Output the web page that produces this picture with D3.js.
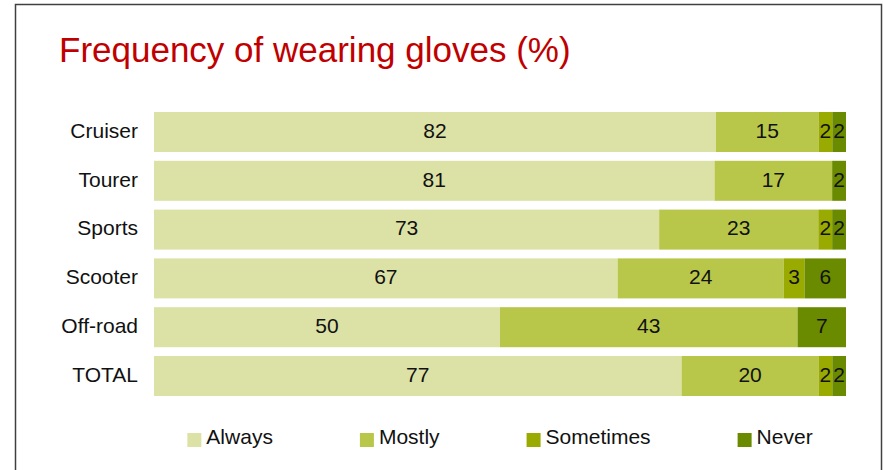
<!DOCTYPE html>
<html><head><meta charset="utf-8">
<script src="https://cdn.jsdelivr.net/npm/d3@7"></script>
<style>
html,body{margin:0;padding:0;background:#fff;}
svg{display:block;font-family:"Liberation Sans",Arial,sans-serif;}
</style></head>
<body><svg id="chart" width="883" height="470"></svg>
<script>
const categories = ["Cruiser","Tourer","Sports","Scooter","Off-road","TOTAL"];
const seriesNames = ["Always","Mostly","Sometimes","Never"];
const always    = [82,81,73,67,50,77];
const mostly    = [15,17,23,24,43,20];
const sometimes = [2,0,2,3,0,2];
const never     = [2,2,2,6,7,2];
const colors = ["#DCE2A6","#B8C74A","#99AA00","#6A8A00"];
const title = "Frequency of wearing gloves (%)";

const W = 883, H = 470;
const plot = {left:154, right:846, top:103.2, bottom:404.8};
const svg = d3.select("#chart");

// frame
svg.append("rect").attr("x",15.5).attr("y",4.5).attr("width",866).attr("height",H+10)
  .attr("fill","#fff").attr("stroke","#404040").attr("stroke-width",1.5);

svg.append("text").attr("x",59).attr("y",62).attr("fill","#C00000")
  .style("font-size","35px").text(title);

const rows = categories.map((c,i)=>({cat:c, Always:always[i], Mostly:mostly[i], Sometimes:sometimes[i], Never:never[i]}));
const stack = d3.stack().keys(seriesNames).offset(d3.stackOffsetExpand);
const layers = stack(rows);

const x = d3.scaleLinear().domain([0,1]).range([plot.left, plot.right]);
const y = d3.scaleBand().domain(categories).range([plot.top, plot.bottom]).padding(0.18);
const color = d3.scaleOrdinal().domain(seriesNames).range(colors);

const g = svg.append("g");
layers.forEach(layer=>{
  const lg = g.append("g").attr("fill", color(layer.key));
  lg.selectAll("rect").data(layer).join("rect")
    .attr("x", d=>x(d[0])).attr("width", d=>Math.max(0, x(d[1])-x(d[0])))
    .attr("y", d=>y(d.data.cat)).attr("height", y.bandwidth());
});
layers.forEach(layer=>{
  g.append("g").selectAll("text").data(layer.filter(d=>d.data[layer.key]>0)).join("text")
    .attr("x", d=>(x(d[0])+x(d[1]))/2)
    .attr("y", d=>y(d.data.cat)+y.bandwidth()/2)
    .attr("dy","0.28em").attr("text-anchor","middle")
    .attr("fill","#111").style("font-size","21px")
    .text(d=>d.data[layer.key]);
});

// category axis
const yAxis = d3.axisLeft(y).tickSize(0).tickPadding(16);
const ag = svg.append("g").attr("transform",`translate(${plot.left},0)`).call(yAxis);
ag.select(".domain").remove();
ag.selectAll("text").attr("fill","#111").style("font-size","21px")
  .style("font-family","'Liberation Sans',Arial,sans-serif").attr("dy","0.28em");

// legend
const leg = svg.append("g");
const items = leg.selectAll("g").data(seriesNames).join("g");
items.append("rect").attr("width",14).attr("height",14).attr("y",-3.5).attr("fill",d=>color(d));
items.append("text").attr("x",19).attr("y",0).attr("dy","0.36em").attr("fill","#111")
  .style("font-size","21px").text(d=>d);
const gap = 87;
let pos = 0;
items.each(function(){
  const t = d3.select(this).select("text").node().getComputedTextLength();
  d3.select(this).attr("transform",`translate(${pos},0)`);
  pos += 19 + t + gap;
});
const totalW = pos - gap;
leg.attr("transform",`translate(${(plot.left+plot.right)/2 - totalW/2},436.5)`);
</script></body></html>
